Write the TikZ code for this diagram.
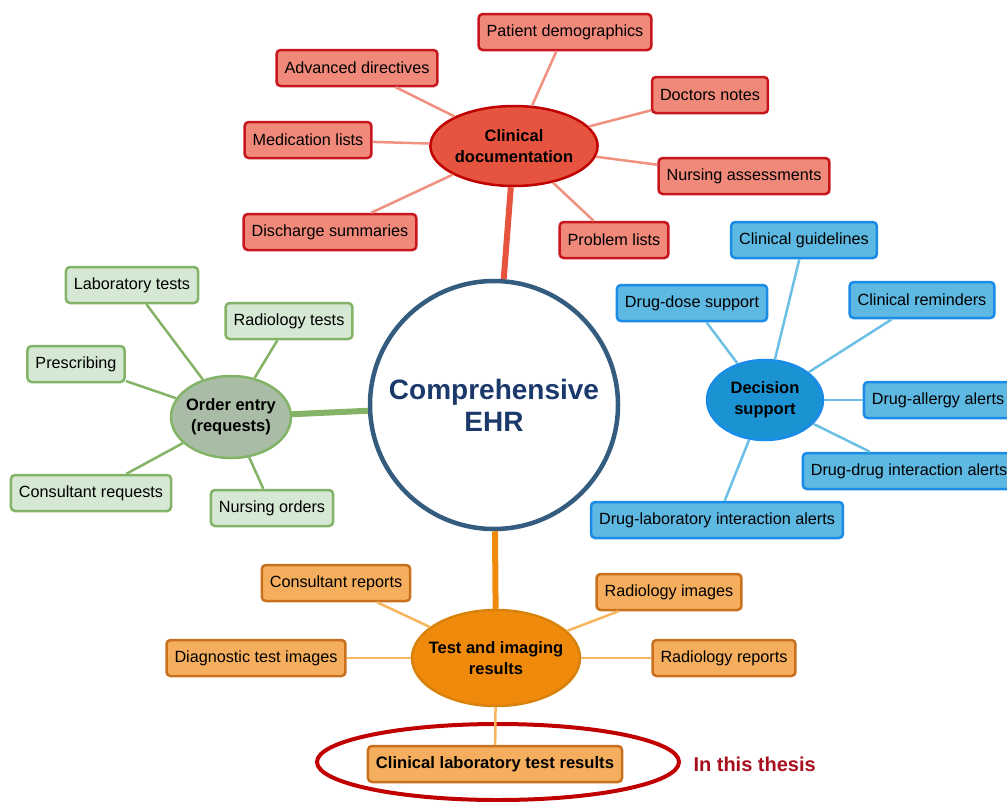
\documentclass[tikz,border=0pt]{standalone}
\usepackage{fontspec}
\setmainfont{Liberation Sans}
\usetikzlibrary{shapes.geometric}

% palette
\definecolor{redfill}{HTML}{F1897B}
\definecolor{redline}{HTML}{C8161E}
\definecolor{redhub}{HTML}{E65440}
\definecolor{redhubline}{HTML}{C00000}
\definecolor{redlink}{HTML}{F0907F}
\definecolor{greenfill}{HTML}{D5E8D4}
\definecolor{greenline}{HTML}{82B366}
\definecolor{greenhub}{HTML}{A9BCA6}
\definecolor{bluefill}{HTML}{5DB8E2}
\definecolor{blueline}{HTML}{1A8CE8}
\definecolor{bluehub}{HTML}{1B93D3}
\definecolor{bluelink}{HTML}{6CC0E5}
\definecolor{orangefill}{HTML}{F5AE5D}
\definecolor{orangeline}{HTML}{C8701E}
\definecolor{orangehub}{HTML}{EF8A0C}
\definecolor{orangehubline}{HTML}{D9820A}
\definecolor{orangelink}{HTML}{F7B55E}
\definecolor{ehrline}{HTML}{345C7E}
\definecolor{ehrtext}{HTML}{1B3A6B}
\definecolor{focusline}{HTML}{C00000}
\definecolor{thesistext}{HTML}{A80F1E}

\begin{document}
\begin{tikzpicture}[x=1pt,y=-1pt,
  leaf/.style={rectangle, rounded corners=4pt, line width=2.5pt, inner xsep=8pt,
    inner ysep=0pt, minimum height=36pt, font=\fontsize{16.2}{19}\selectfont},
  redleaf/.style={leaf, fill=redfill, draw=redline},
  greenleaf/.style={leaf, fill=greenfill, draw=greenline},
  blueleaf/.style={leaf, fill=bluefill, draw=blueline},
  orangeleaf/.style={leaf, fill=orangefill, draw=orangeline},
  hub/.style={ellipse, line width=2.5pt, inner sep=0pt, align=center,
    font=\bfseries\fontsize{16.5}{21}\selectfont},
  twig/.style={line width=2.5pt},
  trunk/.style={line width=6pt},
]
\useasboundingbox (0,0) rectangle (1007,801);

% central circle
\node[circle, minimum size=248pt, line width=4.5pt, draw=ehrline, fill=white,
  text=ehrtext, align=center, font=\bfseries\fontsize{28}{32}\selectfont]
  (ehr) at (494,405) {Comprehensive\\EHR};

% clinical documentation
\node[hub, fill=redhub, draw=redhubline, minimum width=165pt, minimum height=80pt]
  (doc) at (514,146) {Clinical\\documentation};
\node[redleaf] (demo)  at (565,32)  {Patient demographics};
\node[redleaf] (adv)   at (357,68)  {Advanced directives};
\node[redleaf] (notes) at (710,95)  {Doctors notes};
\node[redleaf] (meds)  at (308,140) {Medication lists};
\node[redleaf] (nurse) at (744,176) {Nursing assessments};
\node[redleaf] (disch) at (330,232) {Discharge summaries};
\node[redleaf] (prob)  at (614,240) {Problem lists};
\foreach \n in {demo,adv,notes,meds,nurse,disch,prob}
  \draw[twig, redlink] (doc) -- (\n);
\draw[trunk, redhub] (doc) -- (ehr);

% order entry
\node[hub, fill=greenhub, draw=greenline, inner xsep=-3pt,
  minimum width=120pt, minimum height=82pt]
  (order) at (231,417) {Order entry\\(requests)};
\node[greenleaf] (lab)   at (132,285) {Laboratory tests};
\node[greenleaf] (rad)   at (289,321) {Radiology tests};
\node[greenleaf] (presc) at (76,364)  {Prescribing};
\node[greenleaf] (cons)  at (91,493)  {Consultant requests};
\node[greenleaf] (nord)  at (272,508) {Nursing orders};
\foreach \n in {lab,rad,presc,cons,nord}
  \draw[twig, greenline] (order) -- (\n);
\draw[trunk, greenline] (order) -- (ehr);

% decision support
\node[hub, fill=bluehub, draw=blueline, minimum width=116pt, minimum height=80pt]
  (dec) at (765,400) {Decision\\support};
\node[blueleaf] (guide)  at (804,240) {Clinical guidelines};
\node[blueleaf] (dose)   at (692,303) {Drug-dose support};
\node[blueleaf] (remind) at (922,300) {Clinical reminders};
\node[blueleaf] (allergy) at (938,400) {Drug-allergy alerts};
\node[blueleaf] (ddi)    at (909,471) {Drug-drug interaction alerts};
\node[blueleaf] (dli)    at (717,520) {Drug-laboratory interaction alerts};
\foreach \n in {guide,dose,remind,allergy,ddi,dli}
  \draw[twig, bluelink] (dec) -- (\n);

% test and imaging results
\node[hub, fill=orangehub, draw=orangehubline, inner xsep=-8pt,
  minimum width=168pt, minimum height=96pt]
  (test) at (496,658) {Test and imaging\\results};
\node[orangeleaf] (crep)  at (336,583) {Consultant reports};
\node[orangeleaf] (rimg)  at (669,592) {Radiology images};
\node[orangeleaf] (dimg)  at (256,658) {Diagnostic test images};
\node[orangeleaf] (rrep)  at (724,658) {Radiology reports};
\node[ellipse, draw=focusline, line width=4pt, minimum width=362pt, minimum height=76pt]
  (focus) at (498,762) {};
\node[orangeleaf, font=\bfseries\fontsize{16.6}{19}\selectfont] (clab) at (495,764)
  {Clinical laboratory test results};
\foreach \n in {crep,rimg,dimg,rrep,clab}
  \draw[twig, orangelink] (test) -- (\n);
\draw[trunk, orangehub] (ehr) -- (test);

\node[text=thesistext, font=\bfseries\fontsize{20}{24}\selectfont, anchor=west]
  (thesis) at (690,764) {In this thesis};
\end{tikzpicture}
\end{document}
